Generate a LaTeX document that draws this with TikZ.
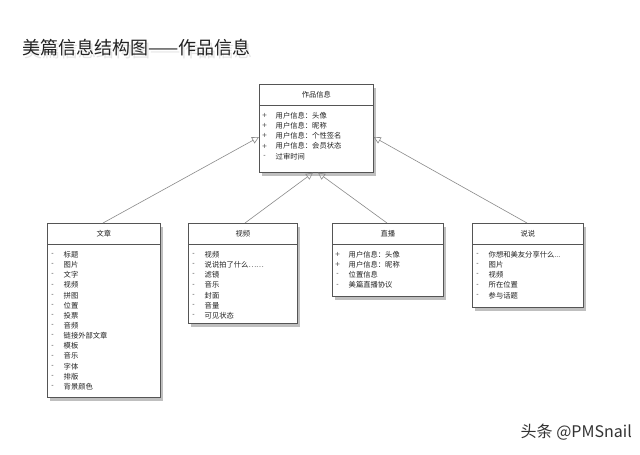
\documentclass[tikz,border=0pt]{standalone}
\usepackage{fontspec}
\setmainfont{Noto Sans CJK SC}
\newfontfamily\mkfont{DejaVu Sans}
\usetikzlibrary{arrows.meta,shadows,calc}
\definecolor{boxline}{HTML}{555555}
\definecolor{conn}{HTML}{8A8A8A}
\definecolor{txt}{HTML}{222222}
\tikzset{
  umlbox/.style={draw=boxline, line width=0.7pt, fill=white, anchor=north west, inner sep=0pt,
    drop shadow={shadow xshift=3pt, shadow yshift=-3.5pt, opacity=0.45, fill=black!55}},
  hdr/.style={font=\fontsize{7.3}{9}\selectfont, text=txt, inner sep=0pt},
  item/.style={font=\fontsize{7.3}{9}\selectfont, text=txt, anchor=west, inner sep=0pt},
  mk/.style={font=\mkfont\fontsize{6.5}{8}\selectfont, text=txt!85, anchor=center, inner sep=0pt},
  inh/.style={draw=conn, line width=0.6pt, -{Triangle[open, length=7pt, width=7pt]}},
}
\newcommand{\umlclass}[8]{% name, x1, y1, w, h, title, markers, items
  \node[umlbox, minimum width=#4pt, minimum height=#5pt] (#1) at (#2,#3) {};
  \draw[boxline, line width=0.6pt] ($(#1.north west)+(0,21)$) -- ($(#1.north east)+(0,21)$);
  \node[hdr] (#1-h) at ($(#1.north)+(0,11)$) {#6};
  \foreach \m [count=\i] in {#7} {
    \node[mk] at ($(#1.north west)+(5.5,22+10.15*\i-0.5)$) {\m};
  }
  \foreach \t [count=\i] in {#8} {
    \node[item] at ($(#1.north west)+(16.5,22+10.15*\i-0.5)$) {\t};
  }
}
\begin{document}
\begin{tikzpicture}[x=1pt,y=-1pt]
\useasboundingbox[fill=white] (0,0) rectangle (640,455);
% title (with soft shadow)
\node[anchor=west, inner sep=0pt, font=\fontsize{18}{20}\selectfont, text=black!20, opacity=0.5] at (24,51) {美篇信息结构图——作品信息};
\node[anchor=west, inner sep=0pt, font=\fontsize{18}{20}\selectfont, text=txt] (title) at (22,48) {美篇信息结构图——作品信息};
% top class
\umlclass{top}{259}{84}{114}{88}{作品信息}{+,+,+,+,-}{用户信息：头像,用户信息：昵称,用户信息：个性签名,用户信息：会员状态,过审时间}
% subclasses
\umlclass{wz}{47}{223}{113}{174}{文章}{-,-,-,-,-,-,-,-,-,-,-,-,-,-}{标题,图片,文字,视频,拼图,位置,投票,音频,链接外部文章,模板,音乐,字体,排版,背景颜色}
\umlclass{sp}{188}{223}{109}{100}{视频}{-,-,-,-,-,-,-}{视频,{说说拍了什么……},滤镜,音乐,封面,音量,可见状态}
\umlclass{zb}{332}{223}{111}{73}{直播}{+,+,-,-}{用户信息：头像,用户信息：昵称,位置信息,美篇直播协议}
\umlclass{ss}{472}{223}{111}{84}{说说}{-,-,-,-,-}{{你想和美友分享什么{.}{.}{.}},图片,视频,所在位置,参与话题}
% connectors
\draw[inh] ($(wz.north west)+(56,0)$) -- ($(top.north west)+(0,53)$);
\draw[inh] ($(sp.north west)+(57,0)$) -- ($(top.south west)+(54,0)$);
\draw[inh] ($(zb.north west)+(55,0)$) -- ($(top.south west)+(59,0)$);
\draw[inh] ($(ss.north west)+(55,0)$) -- ($(top.north east)+(0,53)$);
% watermark
\node[anchor=east, inner sep=0pt, font=\fontsize{16}{18}\selectfont, text=black!80] (wm) at (632,432) {头条 @PMSnail};
\end{tikzpicture}
\end{document}
